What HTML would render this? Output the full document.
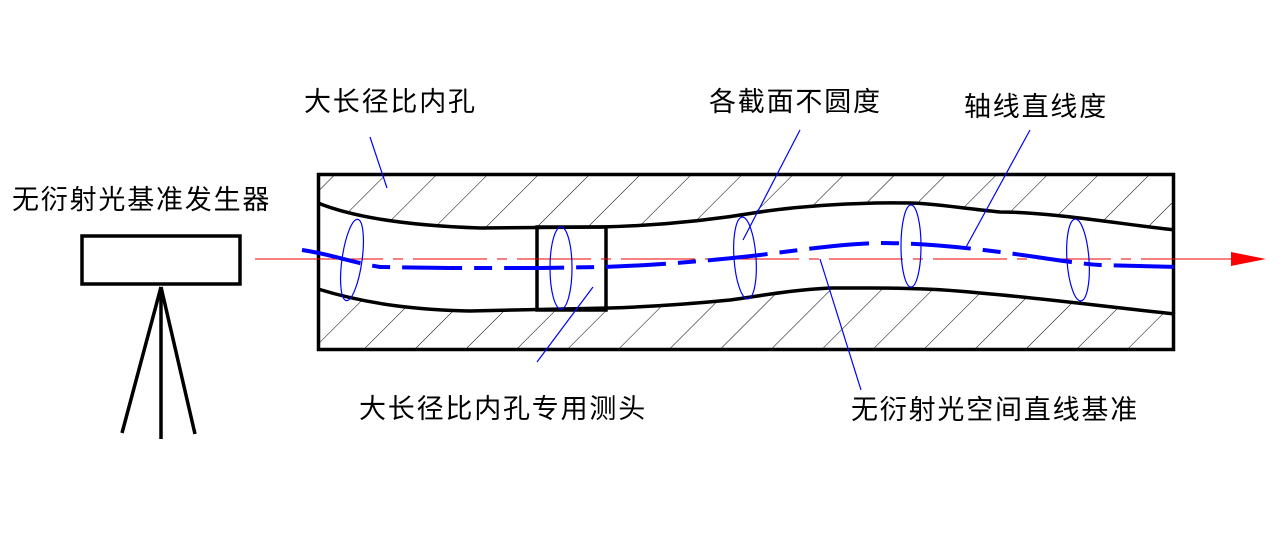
<!DOCTYPE html>
<html><head><meta charset="utf-8"><style>
html,body{margin:0;padding:0;background:#fff;}
svg{display:block}
text{font-family:"Liberation Sans","Noto Sans CJK SC",sans-serif;font-size:27px;letter-spacing:1.8px;fill:#000}
</style></head><body>
<svg width="1284" height="550" viewBox="0 0 1284 550" xmlns="http://www.w3.org/2000/svg">
<defs>
<pattern id="h" patternUnits="userSpaceOnUse" width="36" height="36" patternTransform="rotate(45)">
<line x1="0" y1="0" x2="0" y2="36" stroke="#000" stroke-width="1"/>
</pattern>
<clipPath id="box"><rect x="317" y="173" width="858" height="178"/></clipPath>
</defs>
<g clip-path="url(#box)">
<path d="M317,173 L1175,173 L1175,230 C1120,224 1050,212 1000,212 C960,208 930,203 910,203 C860,202 800,206 760,212 C700,222 650,226 600,227 L480,228 C420,226 360,220 318,203 Z" fill="url(#h)"/>
<path d="M317,351 L1175,351 L1175,314 C1100,306 1040,298 980,293 C940,289 910,288 870,288 L830,288 C790,290 760,296 730,300 C680,305 640,307 610,308 L470,311 C420,310 370,305 318,289 Z" fill="url(#h)"/>
</g>
<rect x="318.5" y="174.5" width="855" height="175" fill="none" stroke="#000" stroke-width="3.5"/>
<path d="M318,203 C360,220 420,226 480,228 L600,227 C650,226 700,222 760,212 C800,206 860,202 910,203 C930,203 960,208 1000,212 C1050,212 1120,224 1175,230" fill="none" stroke="#000" stroke-width="3.5"/>
<path d="M318,289 C370,305 420,310 470,311 L610,308 C640,307 680,305 730,300 C760,296 790,290 830,288 L870,288 C910,288 940,289 980,293 C1040,298 1100,306 1175,314" fill="none" stroke="#000" stroke-width="3.5"/>
<rect x="537" y="227" width="69" height="83" fill="none" stroke="#000" stroke-width="3.5"/>
<line x1="255" y1="259" x2="309" y2="259" stroke="#e00" stroke-width="1"/>
<line x1="309" y1="259" x2="1175" y2="259" stroke="#e00" stroke-width="1" stroke-dasharray="74,10,10,10"/>
<line x1="1175" y1="259" x2="1238" y2="259" stroke="#e00" stroke-width="1"/>
<polygon points="1231,252 1266,259 1231,266" fill="#f00"/>
<path d="M302,250 C330,254 350,262 380,267 L450,268 L540,268 L600,267 C640,266 700,262 760,255 C800,250 840,244 880,243 C920,243 960,247 1000,252 C1040,257 1070,263 1100,265 L1180,267" fill="none" stroke="#0000ff" stroke-width="4" stroke-dasharray="60,12,18,12"/>
<g fill="none" stroke="#0000ff" stroke-width="1.2">
<ellipse cx="352" cy="260" rx="10" ry="41" transform="rotate(8 352 260)"/>
<ellipse cx="561" cy="268" rx="11" ry="41"/>
<ellipse cx="745" cy="258" rx="11" ry="41" transform="rotate(-4 745 258)"/>
<ellipse cx="911" cy="246" rx="10" ry="41"/>
<ellipse cx="1078" cy="260" rx="11" ry="41" transform="rotate(-4 1078 260)"/>
</g>
<g stroke="#0000ff" stroke-width="1.2">
<line x1="370" y1="137" x2="387" y2="188"/>
<line x1="800" y1="130" x2="743" y2="240"/>
<line x1="1030" y1="130" x2="965" y2="249"/>
<line x1="593" y1="287" x2="537" y2="362"/>
<line x1="820" y1="259" x2="861" y2="390"/>
</g>
<rect x="82" y="236" width="158" height="48" fill="none" stroke="#000" stroke-width="3.5"/>
<g stroke="#000" stroke-width="3.5">
<line x1="161" y1="287" x2="122" y2="433"/>
<line x1="161" y1="287" x2="161" y2="439"/>
<line x1="161" y1="287" x2="195" y2="434"/>
</g>
<text x="12" y="209">无衍射光基准发生器</text>
<text x="304" y="111">大长径比内孔</text>
<text x="709" y="111">各截面不圆度</text>
<text x="964" y="116">轴线直线度</text>
<text x="359" y="418">大长径比内孔专用测头</text>
<text x="851" y="419">无衍射光空间直线基准</text>
</svg>
</body></html>
